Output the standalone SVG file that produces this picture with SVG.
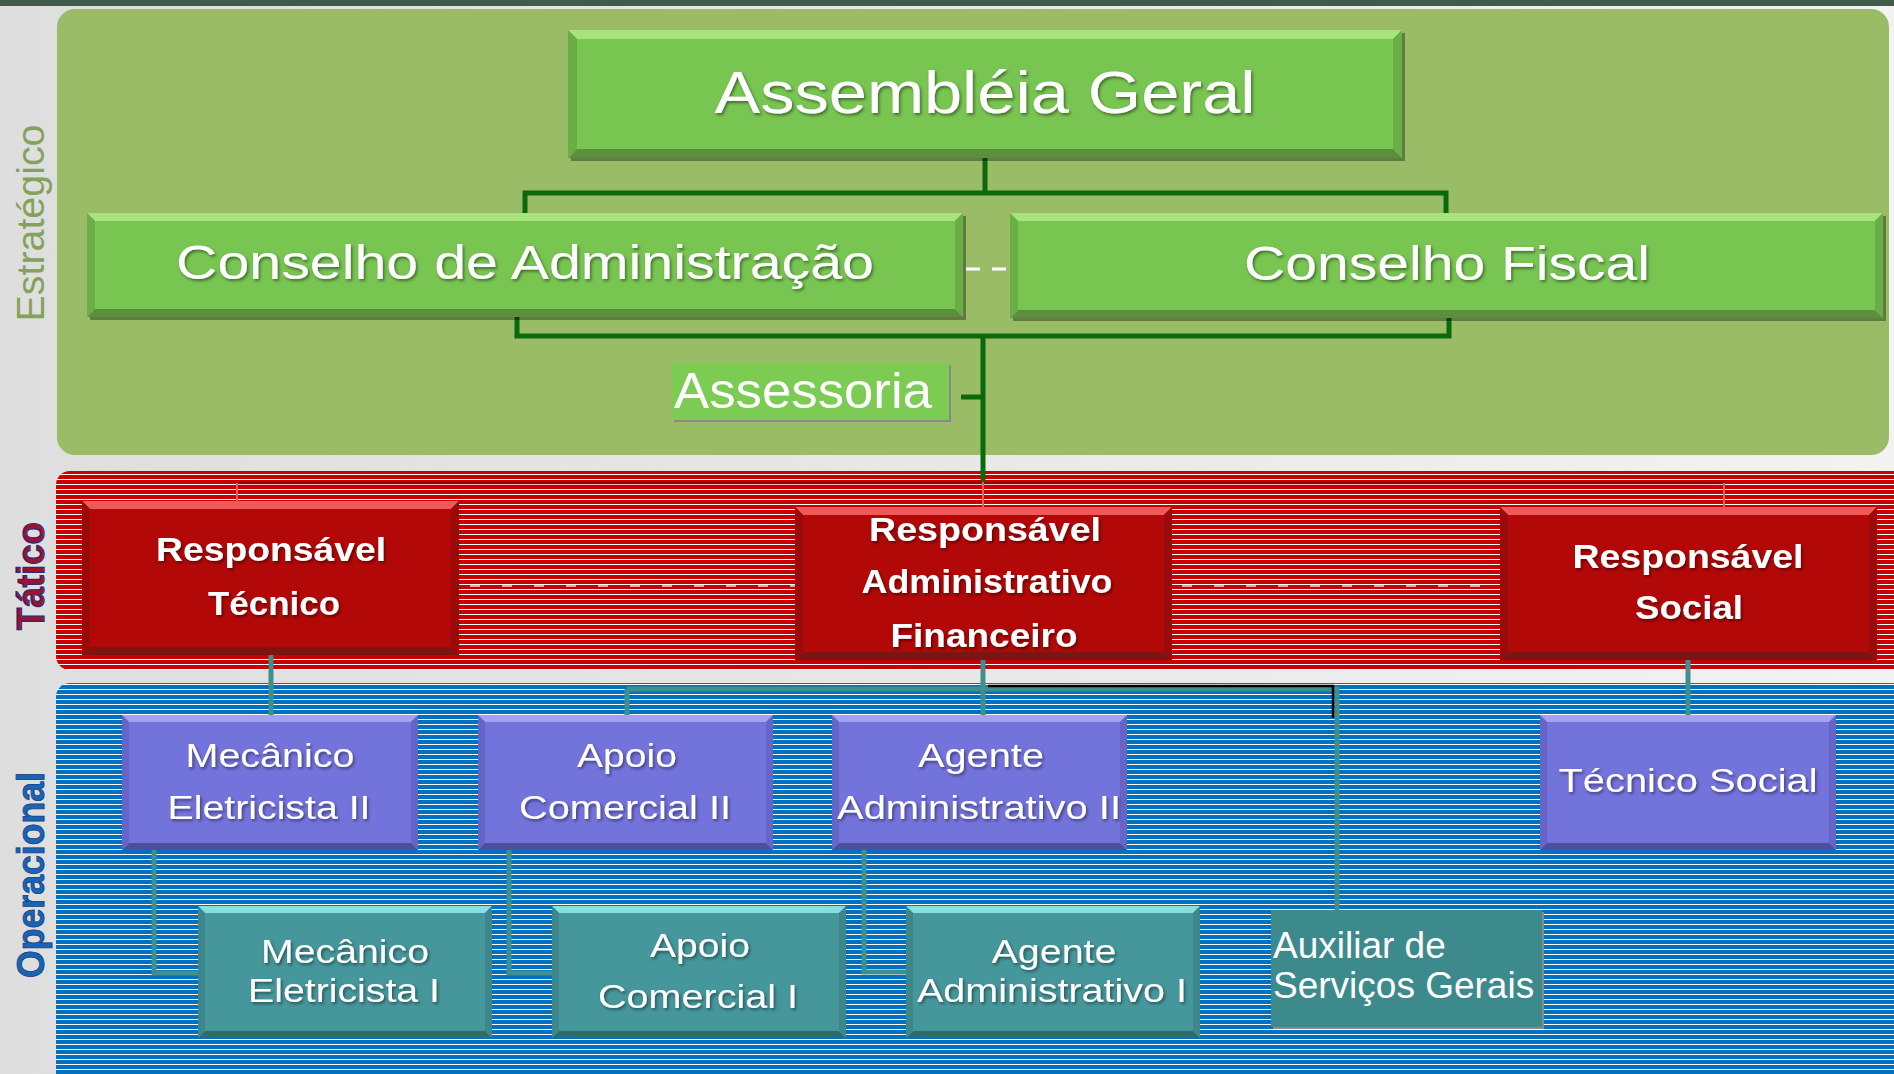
<svg xmlns="http://www.w3.org/2000/svg" width="1894" height="1074" viewBox="0 0 1894 1074">
<defs>
<style>
.t{font-family:"Liberation Sans",Arial,Helvetica,sans-serif;fill:#ffffff;text-anchor:middle;filter:url(#ts)}
.b{font-weight:bold}
.gface{fill:#78c552}.gtop{fill:#a9e37e}.gbot{fill:#5a8f3e}.gside{fill:#6aae48}
.rface{fill:#b20808}.rtop{fill:#ee5a5a}.rbot{fill:#7c1414}.rside{fill:#9a0a0a}
.pface{fill:#7373dc}.ptop{fill:#a2a2f4}.pbot{fill:#4e4e9e}.pside{fill:#6565c8}
.cface{fill:#45979b}.ctop{fill:#86dfe2}.cbot{fill:#2f6a6d}.cside{fill:#3d878b}
.shadow{fill:#000000;opacity:0.35}
.cg{fill:none;stroke:#0b690b;stroke-width:5}
.ct{fill:none;stroke:#3d8f90;stroke-width:5}
.cr{fill:none;stroke:#960000;stroke-width:2.5}
.ck{fill:none;stroke:#000000;stroke-width:2.5}
.cw{fill:none;stroke:#ffffff}
</style>
<pattern id="redStripe" width="8" height="5" patternUnits="userSpaceOnUse">
<rect width="8" height="5" fill="#c80000"/>
<rect y="4" width="8" height="1" fill="#ffffff"/>
</pattern>
<pattern id="blueStripe" width="8" height="5" patternUnits="userSpaceOnUse">
<rect width="8" height="5" fill="#0070c0"/>
<rect y="4" width="8" height="1" fill="#ffffff"/>
</pattern>
<linearGradient id="bg" x1="0" y1="0" x2="1" y2="0">
<stop offset="0" stop-color="#dedede"/>
<stop offset="1" stop-color="#f2f2f2"/>
</linearGradient>
<filter id="ts" x="-5%" y="-20%" width="110%" height="150%">
<feDropShadow dx="1.5" dy="2" stdDeviation="1.5" flood-color="#000000" flood-opacity="0.45"/>
</filter>
</defs>

<rect width="1894" height="1074" fill="url(#bg)"/>
<rect width="1894" height="6" fill="#415a4b"/>

<g id="lanes">
<rect x="57" y="9" width="1832" height="446" rx="18" fill="#9bbc66"/>
<rect x="56" y="471" width="1860" height="199" rx="14" fill="url(#redStripe)"/>
<rect x="56" y="683" width="1860" height="420" rx="14" fill="url(#blueStripe)"/>
<text class="t" style="fill:#85a25a;filter:none" font-size="38" transform="translate(44,223) rotate(-90)" textLength="197" lengthAdjust="spacingAndGlyphs">Estratégico</text>
<text class="t b" style="fill:#a3102c;stroke:#2b2b78;stroke-width:1.2;filter:none" font-size="38" transform="translate(44,576) rotate(-90)" textLength="108" lengthAdjust="spacingAndGlyphs">Tático</text>
<text class="t b" style="fill:#1a63b5;stroke:#0d3f80;stroke-width:0.8;filter:none" font-size="38" transform="translate(44,875) rotate(-90)" textLength="206" lengthAdjust="spacingAndGlyphs">Operacional</text>
</g>

<g id="connectors">
<path class="cg" d="M985,158 V193"/>
<path class="cg" d="M525,213 V193 H1446 V213"/>
<path class="cg" d="M517,317 V336 H1449 V318"/>
<path class="cg" d="M983,336 V482"/>
<path class="cg" d="M961,397 H983"/>
<path class="cw" stroke-width="3" stroke-dasharray="14 12" d="M966,269 H1008"/>
<path class="cr" d="M237,483 H1724"/>
<path class="cr" style="stroke:#e06060;stroke-width:2" d="M237,483 V501 M1724,483 V507 M983,482 V507"/>
<path class="cw" stroke-width="1.5" stroke-dasharray="10 22" opacity="0.85" d="M470,586 H795 M1182,586 H1500"/>
<path class="ct" d="M271,655 V715"/>
<path class="ct" d="M983,660 V715"/>
<path class="ct" d="M627,689 H1337 V910"/>
<path class="ct" d="M627,689 V715"/>
<path class="ct" d="M1688,660 V715"/>
<path class="ct" d="M154,850 V973 H198"/>
<path class="ct" d="M509,850 V973 H552"/>
<path class="ct" d="M864,850 V972 H906"/>
<path class="ck" d="M988,686 H1333 V718"/>
</g>

<g id="assembleia">
<rect class="shadow" x="571" y="33" width="834" height="128"/>
<rect class="gface" x="568" y="30" width="834" height="128"/>
<polygon class="gtop" points="568,30 1402,30 1393,39 577,39"/>
<polygon class="gbot" points="568,158 1402,158 1393,149 577,149"/>
<polygon class="gside" points="568,30 577,39 577,149 568,158"/>
<polygon class="gside" points="1402,30 1393,39 1393,149 1402,158"/>
<text class="t" x="985" y="113" font-size="60" textLength="541" lengthAdjust="spacingAndGlyphs">Assembléia Geral</text>
</g>

<g id="conselho-adm">
<rect class="shadow" x="90" y="216" width="876" height="104"/>
<rect class="gface" x="87" y="213" width="876" height="104"/>
<polygon class="gtop" points="87,213 963,213 955,221 95,221"/>
<polygon class="gbot" points="87,317 963,317 955,309 95,309"/>
<polygon class="gside" points="87,213 95,221 95,309 87,317"/>
<polygon class="gside" points="963,213 955,221 955,309 963,317"/>
<text class="t" x="525" y="279" font-size="48" textLength="698" lengthAdjust="spacingAndGlyphs">Conselho de Administração</text>
</g>

<g id="conselho-fiscal">
<rect class="shadow" x="1013" y="216" width="873" height="105"/>
<rect class="gface" x="1010" y="213" width="873" height="105"/>
<polygon class="gtop" points="1010,213 1883,213 1875,221 1018,221"/>
<polygon class="gbot" points="1010,318 1883,318 1875,310 1018,310"/>
<polygon class="gside" points="1010,213 1018,221 1018,310 1010,318"/>
<polygon class="gside" points="1883,213 1875,221 1875,310 1883,318"/>
<text class="t" x="1447" y="280" font-size="48" textLength="406" lengthAdjust="spacingAndGlyphs">Conselho Fiscal</text>
</g>

<g id="assessoria">
<rect x="674" y="365" width="277" height="57" fill="#8a8a8a"/>
<rect x="672" y="363" width="277" height="57" fill="#7ccc53"/>
<text class="t" style="text-anchor:start;filter:none" x="674" y="408" font-size="50" textLength="258" lengthAdjust="spacingAndGlyphs">Assessoria</text>
</g>

<g id="resp-tecnico">
<rect class="rface" x="82" y="501" width="377" height="154"/>
<polygon class="rtop" points="82,501 459,501 451,509 90,509"/>
<polygon class="rbot" points="82,655 459,655 451,647 90,647"/>
<polygon class="rside" points="82,501 90,509 90,647 82,655"/>
<polygon class="rside" points="459,501 451,509 451,647 459,655"/>
<text class="t b" x="271" y="561" font-size="34" textLength="230" lengthAdjust="spacingAndGlyphs">Responsável</text>
<text class="t b" x="274" y="615" font-size="34" textLength="132" lengthAdjust="spacingAndGlyphs">Técnico</text>
</g>

<g id="resp-adm-fin">
<rect class="rface" x="795" y="507" width="377" height="153"/>
<polygon class="rtop" points="795,507 1172,507 1164,515 803,515"/>
<polygon class="rbot" points="795,660 1172,660 1164,652 803,652"/>
<polygon class="rside" points="795,507 803,515 803,652 795,660"/>
<polygon class="rside" points="1172,507 1164,515 1164,652 1172,660"/>
<text class="t b" x="985" y="541" font-size="34" textLength="232" lengthAdjust="spacingAndGlyphs">Responsável</text>
<text class="t b" x="987" y="593" font-size="34" textLength="251" lengthAdjust="spacingAndGlyphs">Administrativo</text>
<text class="t b" x="984" y="647" font-size="34" textLength="187" lengthAdjust="spacingAndGlyphs">Financeiro</text>
</g>

<g id="resp-social">
<rect class="rface" x="1500" y="507" width="377" height="153"/>
<polygon class="rtop" points="1500,507 1877,507 1869,515 1508,515"/>
<polygon class="rbot" points="1500,660 1877,660 1869,652 1508,652"/>
<polygon class="rside" points="1500,507 1508,515 1508,652 1500,660"/>
<polygon class="rside" points="1877,507 1869,515 1869,652 1877,660"/>
<text class="t b" x="1688" y="568" font-size="34" textLength="231" lengthAdjust="spacingAndGlyphs">Responsável</text>
<text class="t b" x="1689" y="619" font-size="34" textLength="108" lengthAdjust="spacingAndGlyphs">Social</text>
</g>

<g id="mecanico-2">
<rect class="pface" x="122" y="715" width="296" height="135"/>
<polygon class="ptop" points="122,715 418,715 411,722 129,722"/>
<polygon class="pbot" points="122,850 418,850 411,843 129,843"/>
<polygon class="pside" points="122,715 129,722 129,843 122,850"/>
<polygon class="pside" points="418,715 411,722 411,843 418,850"/>
<text class="t" x="270" y="767" font-size="33" textLength="169" lengthAdjust="spacingAndGlyphs">Mecânico</text>
<text class="t" x="269" y="819" font-size="33" textLength="203" lengthAdjust="spacingAndGlyphs">Eletricista II</text>
</g>

<g id="apoio-2">
<rect class="pface" x="478" y="715" width="295" height="135"/>
<polygon class="ptop" points="478,715 773,715 766,722 485,722"/>
<polygon class="pbot" points="478,850 773,850 766,843 485,843"/>
<polygon class="pside" points="478,715 485,722 485,843 478,850"/>
<polygon class="pside" points="773,715 766,722 766,843 773,850"/>
<text class="t" x="627" y="767" font-size="33" textLength="100" lengthAdjust="spacingAndGlyphs">Apoio</text>
<text class="t" x="625" y="819" font-size="33" textLength="212" lengthAdjust="spacingAndGlyphs">Comercial II</text>
</g>

<g id="agente-2">
<rect class="pface" x="832" y="715" width="295" height="135"/>
<polygon class="ptop" points="832,715 1127,715 1120,722 839,722"/>
<polygon class="pbot" points="832,850 1127,850 1120,843 839,843"/>
<polygon class="pside" points="832,715 839,722 839,843 832,850"/>
<polygon class="pside" points="1127,715 1120,722 1120,843 1127,850"/>
<text class="t" x="981" y="767" font-size="33" textLength="126" lengthAdjust="spacingAndGlyphs">Agente</text>
<text class="t" x="979" y="819" font-size="33" textLength="284" lengthAdjust="spacingAndGlyphs">Administrativo II</text>
</g>

<g id="tecnico-social">
<rect class="pface" x="1540" y="715" width="296" height="135"/>
<polygon class="ptop" points="1540,715 1836,715 1829,722 1547,722"/>
<polygon class="pbot" points="1540,850 1836,850 1829,843 1547,843"/>
<polygon class="pside" points="1540,715 1547,722 1547,843 1540,850"/>
<polygon class="pside" points="1836,715 1829,722 1829,843 1836,850"/>
<text class="t" x="1688" y="792" font-size="33" textLength="259" lengthAdjust="spacingAndGlyphs">Técnico Social</text>
</g>

<g id="mecanico-1">
<rect class="cface" x="198" y="906" width="294" height="132"/>
<polygon class="ctop" points="198,906 492,906 485,913 205,913"/>
<polygon class="cbot" points="198,1038 492,1038 485,1031 205,1031"/>
<polygon class="cside" points="198,906 205,913 205,1031 198,1038"/>
<polygon class="cside" points="492,906 485,913 485,1031 492,1038"/>
<text class="t" x="345" y="963" font-size="33" textLength="168" lengthAdjust="spacingAndGlyphs">Mecânico</text>
<text class="t" x="344" y="1002" font-size="33" textLength="192" lengthAdjust="spacingAndGlyphs">Eletricista I</text>
</g>

<g id="apoio-1">
<rect class="cface" x="552" y="906" width="294" height="132"/>
<polygon class="ctop" points="552,906 846,906 839,913 559,913"/>
<polygon class="cbot" points="552,1038 846,1038 839,1031 559,1031"/>
<polygon class="cside" points="552,906 559,913 559,1031 552,1038"/>
<polygon class="cside" points="846,906 839,913 839,1031 846,1038"/>
<text class="t" x="700" y="957" font-size="33" textLength="100" lengthAdjust="spacingAndGlyphs">Apoio</text>
<text class="t" x="698" y="1008" font-size="33" textLength="200" lengthAdjust="spacingAndGlyphs">Comercial I</text>
</g>

<g id="agente-1">
<rect class="cface" x="906" y="906" width="294" height="132"/>
<polygon class="ctop" points="906,906 1200,906 1193,913 913,913"/>
<polygon class="cbot" points="906,1038 1200,1038 1193,1031 913,1031"/>
<polygon class="cside" points="906,906 913,913 913,1031 906,1038"/>
<polygon class="cside" points="1200,906 1193,913 1193,1031 1200,1038"/>
<text class="t" x="1054" y="963" font-size="33" textLength="125" lengthAdjust="spacingAndGlyphs">Agente</text>
<text class="t" x="1052" y="1002" font-size="33" textLength="270" lengthAdjust="spacingAndGlyphs">Administrativo I</text>
</g>

<g id="auxiliar">
<rect x="1273" y="912" width="271" height="117" fill="#8a8a8a"/>
<rect x="1271" y="910" width="271" height="117" fill="#3d8a8d"/>
<text class="t" style="text-anchor:start;filter:none" x="1273" y="958" font-size="37">Auxiliar de</text>
<text class="t" style="text-anchor:start;filter:none" x="1273" y="998" font-size="37">Serviços Gerais</text>
</g>
</svg>
